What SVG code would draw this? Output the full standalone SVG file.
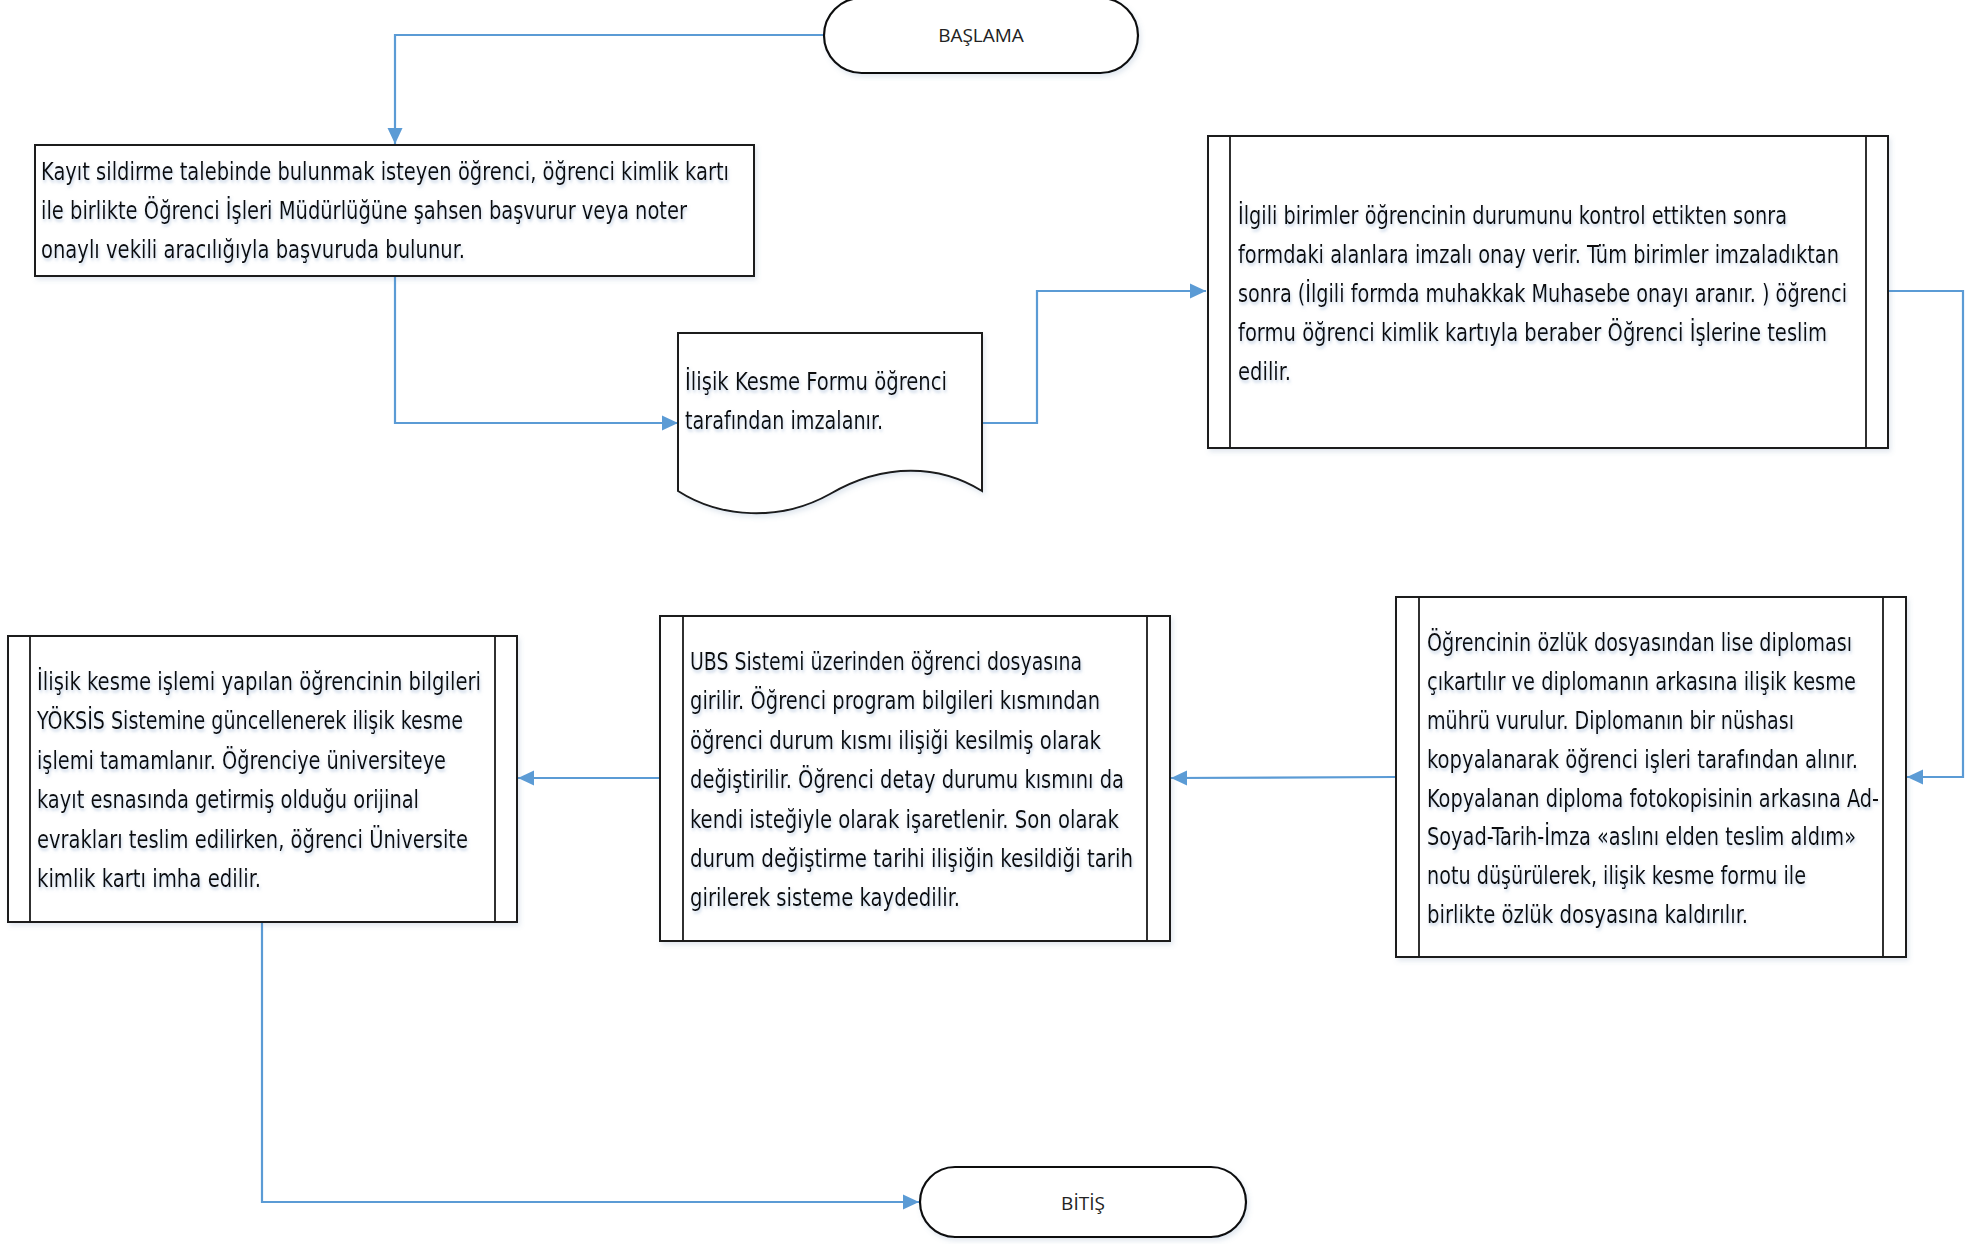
<svg xmlns="http://www.w3.org/2000/svg" width="1978" height="1244" viewBox="0 0 1978 1244">
<defs>
<style>
.shape{fill:#ffffff;stroke:#1a1a1a;stroke-width:2;}
.inner{fill:none;stroke:#1a1a1a;stroke-width:1.8;}
.term{fill:#ffffff;stroke:#111111;stroke-width:2.2;}
.conn{fill:none;stroke:#5B9BD5;stroke-width:2.2;}
.t{font-family:"Liberation Sans Narrow","DejaVu Sans Condensed","Liberation Sans",sans-serif;font-stretch:condensed;font-size:24.5px;fill:#0d0d0d;}
.lbl{font-family:"Open Sans","Liberation Sans",sans-serif;font-size:19px;fill:#222222;text-anchor:middle;}
</style>
<marker id="arr" markerUnits="userSpaceOnUse" markerWidth="18" markerHeight="16" refX="16" refY="8" orient="auto">
<path d="M0,0.5 L16,8 L0,15.5 Z" fill="#5B9BD5"/>
</marker>
<filter id="sh" x="-5%" y="-5%" width="110%" height="115%">
<feDropShadow dx="2" dy="3" stdDeviation="2.5" flood-color="#5a7fa8" flood-opacity="0.18"/>
</filter>
<filter id="glow" x="-2%" y="-20%" width="104%" height="150%">
<feDropShadow dx="1" dy="2.5" stdDeviation="1.6" flood-color="#8aa6cc" flood-opacity="0.5"/>
</filter>
</defs>

<g id="connectors">
<path class="conn" d="M824,35 H395 V144" marker-end="url(#arr)"/>
<path class="conn" d="M395,276 V423 H678" marker-end="url(#arr)"/>
<path class="conn" d="M981,423 H1037 V291 H1206" marker-end="url(#arr)"/>
<path class="conn" d="M1888,291 H1963 V777 H1907" marker-end="url(#arr)"/>
<path class="conn" d="M1396,777 L1171,778" marker-end="url(#arr)"/>
<path class="conn" d="M660,778 H518" marker-end="url(#arr)"/>
<path class="conn" d="M262,922 V1202 H919" marker-end="url(#arr)"/>
</g>

<g id="start">
<rect class="term" filter="url(#sh)" x="824" y="-2" width="314" height="75" rx="37.5" ry="37.5"/>
<text class="lbl" x="981" y="42">BAŞLAMA</text>
</g>

<g id="step1">
<rect class="shape" filter="url(#sh)" x="35" y="145" width="719" height="131"/>
<g filter="url(#glow)">
<text class="t" x="41" y="180" textLength="688" lengthAdjust="spacingAndGlyphs">Kayıt sildirme talebinde bulunmak isteyen öğrenci, öğrenci kimlik kartı</text>
<text class="t" x="41" y="219" textLength="646" lengthAdjust="spacingAndGlyphs">ile birlikte Öğrenci İşleri Müdürlüğüne şahsen başvurur veya noter</text>
<text class="t" x="41" y="258" textLength="424" lengthAdjust="spacingAndGlyphs">onaylı vekili aracılığıyla başvuruda bulunur.</text>
</g>
</g>

<g id="step2">
<path class="shape" filter="url(#sh)" d="M678,333 H982 V491 C940,465 885,462 830,494 C780,522 720,518 678,491 Z"/>
<g filter="url(#glow)">
<text class="t" x="685" y="390" textLength="262" lengthAdjust="spacingAndGlyphs">İlişik Kesme Formu öğrenci</text>
<text class="t" x="685" y="429" textLength="198" lengthAdjust="spacingAndGlyphs">tarafından imzalanır.</text>
</g>
</g>

<g id="step3">
<rect class="shape" filter="url(#sh)" x="1208" y="136" width="680" height="312"/>
<line class="inner" x1="1230" y1="136" x2="1230" y2="448"/>
<line class="inner" x1="1866" y1="136" x2="1866" y2="448"/>
<g filter="url(#glow)">
<text class="t" x="1238" y="224" textLength="549" lengthAdjust="spacingAndGlyphs">İlgili birimler öğrencinin durumunu kontrol ettikten sonra</text>
<text class="t" x="1238" y="263" textLength="601" lengthAdjust="spacingAndGlyphs">formdaki alanlara imzalı onay verir. Tüm birimler imzaladıktan</text>
<text class="t" x="1238" y="302" textLength="609" lengthAdjust="spacingAndGlyphs">sonra (İlgili formda muhakkak Muhasebe onayı aranır. ) öğrenci</text>
<text class="t" x="1238" y="341" textLength="589" lengthAdjust="spacingAndGlyphs">formu öğrenci kimlik kartıyla beraber Öğrenci İşlerine teslim</text>
<text class="t" x="1238" y="380" textLength="53" lengthAdjust="spacingAndGlyphs">edilir.</text>
</g>
</g>

<g id="step4">
<rect class="shape" filter="url(#sh)" x="1396" y="597" width="510" height="360"/>
<line class="inner" x1="1419" y1="597" x2="1419" y2="957"/>
<line class="inner" x1="1883" y1="597" x2="1883" y2="957"/>
<g filter="url(#glow)">
<text class="t" x="1427" y="651" textLength="425" lengthAdjust="spacingAndGlyphs">Öğrencinin özlük dosyasından lise diploması</text>
<text class="t" x="1427" y="690" textLength="429" lengthAdjust="spacingAndGlyphs">çıkartılır ve diplomanın arkasına ilişik kesme</text>
<text class="t" x="1427" y="729" textLength="367" lengthAdjust="spacingAndGlyphs">mührü vurulur. Diplomanın bir nüshası</text>
<text class="t" x="1427" y="768" textLength="431" lengthAdjust="spacingAndGlyphs">kopyalanarak öğrenci işleri tarafından alınır.</text>
<text class="t" x="1427" y="807" textLength="452" lengthAdjust="spacingAndGlyphs">Kopyalanan diploma fotokopisinin arkasına Ad-</text>
<text class="t" x="1427" y="845" textLength="429" lengthAdjust="spacingAndGlyphs">Soyad-Tarih-İmza «aslını elden teslim aldım»</text>
<text class="t" x="1427" y="884" textLength="379" lengthAdjust="spacingAndGlyphs">notu düşürülerek, ilişik kesme formu ile</text>
<text class="t" x="1427" y="923" textLength="321" lengthAdjust="spacingAndGlyphs">birlikte özlük dosyasına kaldırılır.</text>
</g>
</g>

<g id="step5">
<rect class="shape" filter="url(#sh)" x="660" y="616" width="510" height="325"/>
<line class="inner" x1="683" y1="616" x2="683" y2="941"/>
<line class="inner" x1="1147" y1="616" x2="1147" y2="941"/>
<g filter="url(#glow)">
<text class="t" x="690" y="670" textLength="392" lengthAdjust="spacingAndGlyphs">UBS Sistemi üzerinden öğrenci dosyasına</text>
<text class="t" x="690" y="709" textLength="410" lengthAdjust="spacingAndGlyphs">girilir. Öğrenci program bilgileri kısmından</text>
<text class="t" x="690" y="749" textLength="411" lengthAdjust="spacingAndGlyphs">öğrenci durum kısmı ilişiği kesilmiş olarak</text>
<text class="t" x="690" y="788" textLength="434" lengthAdjust="spacingAndGlyphs">değiştirilir. Öğrenci detay durumu kısmını da</text>
<text class="t" x="690" y="828" textLength="429" lengthAdjust="spacingAndGlyphs">kendi isteğiyle olarak işaretlenir. Son olarak</text>
<text class="t" x="690" y="867" textLength="443" lengthAdjust="spacingAndGlyphs">durum değiştirme tarihi ilişiğin kesildiği tarih</text>
<text class="t" x="690" y="906" textLength="270" lengthAdjust="spacingAndGlyphs">girilerek sisteme kaydedilir.</text>
</g>
</g>

<g id="step6">
<rect class="shape" filter="url(#sh)" x="8" y="636" width="509" height="286"/>
<line class="inner" x1="30" y1="636" x2="30" y2="922"/>
<line class="inner" x1="495" y1="636" x2="495" y2="922"/>
<g filter="url(#glow)">
<text class="t" x="37" y="690" textLength="444" lengthAdjust="spacingAndGlyphs">İlişik kesme işlemi yapılan öğrencinin bilgileri</text>
<text class="t" x="37" y="729" textLength="426" lengthAdjust="spacingAndGlyphs">YÖKSİS Sistemine güncellenerek ilişik kesme</text>
<text class="t" x="37" y="769" textLength="409" lengthAdjust="spacingAndGlyphs">işlemi tamamlanır. Öğrenciye üniversiteye</text>
<text class="t" x="37" y="808" textLength="382" lengthAdjust="spacingAndGlyphs">kayıt esnasında getirmiş olduğu orijinal</text>
<text class="t" x="37" y="848" textLength="431" lengthAdjust="spacingAndGlyphs">evrakları teslim edilirken, öğrenci Üniversite</text>
<text class="t" x="37" y="887" textLength="224" lengthAdjust="spacingAndGlyphs">kimlik kartı imha edilir.</text>
</g>
</g>

<g id="end">
<rect class="term" filter="url(#sh)" x="920" y="1167" width="326" height="70" rx="35" ry="35"/>
<text class="lbl" x="1083" y="1210">BİTİŞ</text>
</g>
</svg>
